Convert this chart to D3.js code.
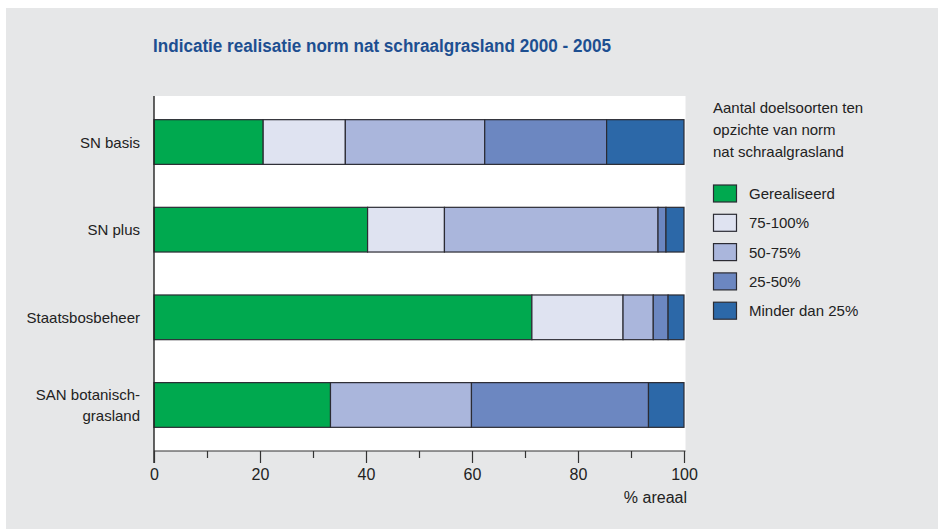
<!DOCTYPE html>
<html>
<head>
<meta charset="utf-8">
<script src="https://cdn.jsdelivr.net/npm/d3@7"></script>
<style>
  html, body { margin: 0; padding: 0; background: #ffffff; }
  svg { display: block; }
  text { font-family: "Liberation Sans", Arial, sans-serif; }
</style>
</head>
<body>
<script>
// ---- data ----
const categories = ["SN basis", "SN plus", "Staatsbosbeheer", "SAN botanisch-grasland"];
const categoryLines = [["SN basis"], ["SN plus"], ["Staatsbosbeheer"], ["SAN botanisch-", "grasland"]];
const seriesNames = ["Gerealiseerd", "75-100%", "50-75%", "25-50%", "Minder dan 25%"];
const gerealiseerd = [20.6, 40.3, 71.3, 33.3];
const p75_100      = [15.5, 14.5, 17.2, 0];
const p50_75       = [26.3, 40.3, 5.7, 26.6];
const p25_50       = [23.0, 1.5, 2.8, 33.4];
const minder25     = [14.6, 3.4, 3.0, 6.7];
const xTicks = [0, 20, 40, 60, 80, 100];
const xMinorTicks = [10, 30, 50, 70, 90];
const titleText = "Indicatie realisatie norm nat schraalgrasland 2000 - 2005";
const legendTitle = ["Aantal doelsoorten ten", "opzichte van norm", "nat schraalgrasland"];
const xAxisTitle = "% areaal";

const colors = ["#00a94f", "#dfe3f1", "#aab6dc", "#6c87c1", "#2c68a8"];

// ---- build table ----
const seriesArrays = [gerealiseerd, p75_100, p50_75, p25_50, minder25];
const table = categories.map((c, i) => {
  const row = { cat: c };
  seriesNames.forEach((s, j) => row[s] = seriesArrays[j][i]);
  return row;
});
const stacked = d3.stack().keys(seriesNames)(table);

// ---- layout ----
const W = 938, H = 529;
const svg = d3.select("body").append("svg").attr("width", W).attr("height", H);

svg.append("rect").attr("x", 6).attr("y", 8).attr("width", W - 6).attr("height", H - 8)
  .attr("fill", "#e6e7e8");

const plot = { left: 154, right: 684, top: 96, bottom: 451 };
svg.append("rect").attr("x", plot.left).attr("y", plot.top)
  .attr("width", plot.right - plot.left + 1.5).attr("height", plot.bottom - plot.top)
  .attr("fill", "#ffffff");

const x = d3.scaleLinear().domain([0, 100]).range([plot.left, plot.right]);
const y = d3.scaleBand().domain(categories).range([plot.top, plot.bottom]).paddingInner(0.49).paddingOuter(0.27);

// title
svg.append("text").attr("x", 153).attr("y", 52)
  .attr("font-size", 18).attr("font-weight", "bold")
  .attr("fill", "#1d4f91")
  .attr("textLength", 458).attr("lengthAdjust", "spacingAndGlyphs")
  .style("font-family", "'Liberation Sans Narrow', 'Arial Narrow', 'Liberation Sans', sans-serif")
  .text(titleText);

// bars
const g = svg.append("g");
stacked.forEach((layer, j) => {
  g.selectAll(null).data(layer.filter(d => d[1] - d[0] > 0)).enter().append("rect")
    .attr("x", d => x(d[0]))
    .attr("y", d => y(d.data.cat))
    .attr("width", d => x(d[1]) - x(d[0]))
    .attr("height", y.bandwidth())
    .attr("fill", colors[j])
    .attr("stroke", "#2b2b33")
    .attr("stroke-width", 1.2);
});

// x axis line
svg.append("line").attr("x1", plot.left).attr("x2", plot.right + 1.5)
  .attr("y1", plot.bottom).attr("y2", plot.bottom)
  .attr("stroke", "#333").attr("stroke-width", 1.2);
// y axis line
svg.append("line").attr("x1", plot.left).attr("x2", plot.left)
  .attr("y1", plot.top).attr("y2", plot.bottom + 12)
  .attr("stroke", "#222").attr("stroke-width", 1.4);

// major ticks
const xAxis = d3.axisBottom(x).tickValues(xTicks).tickSize(12).tickPadding(6);
const ax = svg.append("g").attr("transform", `translate(0,${plot.bottom})`).call(xAxis);
ax.select(".domain").remove();
ax.selectAll(".tick line").attr("stroke", "#333").attr("stroke-width", 1.2);
ax.selectAll(".tick text").attr("font-size", 16).attr("fill", "#222")
  .style("font-family", "'Liberation Sans', Arial, sans-serif");
// minor ticks
const axMinor = d3.axisBottom(x).tickValues(xMinorTicks).tickSize(7).tickFormat("");
const am = svg.append("g").attr("transform", `translate(0,${plot.bottom})`).call(axMinor);
am.select(".domain").remove();
am.selectAll(".tick line").attr("stroke", "#333").attr("stroke-width", 1.2);

svg.append("text").attr("x", 687).attr("y", 503).attr("text-anchor", "end")
  .attr("font-size", 16).attr("fill", "#222").text(xAxisTitle);

// y labels
categories.forEach((c, i) => {
  const lines = categoryLines[i];
  const cy = y(c) + y.bandwidth() / 2;
  const lh = 21;
  lines.forEach((ln, k) => {
    svg.append("text").attr("x", 140)
      .attr("y", cy + (k - (lines.length - 1) / 2) * lh + 5.5)
      .attr("text-anchor", "end").attr("font-size", 15).attr("fill", "#222")
      .text(ln);
  });
});

// legend
legendTitle.forEach((t, k) => {
  svg.append("text").attr("x", 713).attr("y", 113 + k * 22)
    .attr("font-size", 15).attr("fill", "#222").text(t);
});
seriesNames.forEach((s, j) => {
  const ly = 185 + j * 29.3;
  svg.append("rect").attr("x", 713.5).attr("y", ly).attr("width", 23).attr("height", 17)
    .attr("fill", colors[j]).attr("stroke", "#2b2b33").attr("stroke-width", 1.2);
  svg.append("text").attr("x", 749).attr("y", ly + 14)
    .attr("font-size", 15).attr("fill", "#222").text(s);
});
</script>
</body>
</html>
